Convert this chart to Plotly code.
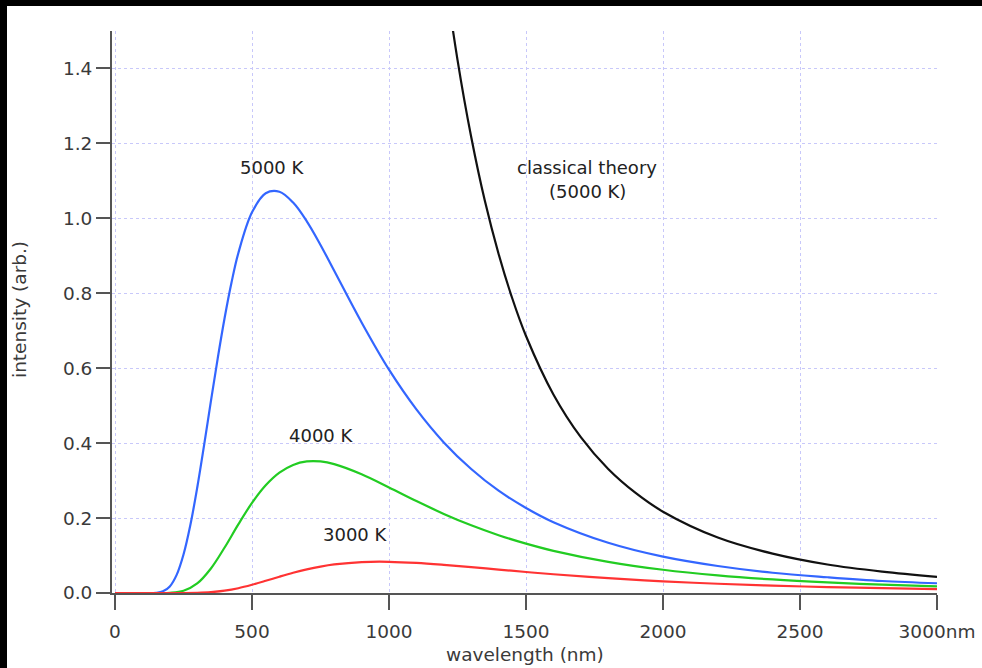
import plotly.graph_objects as go

# ---- data ----
wl_5000 = [0, 100, 150, 175, 200, 225, 250, 275, 300, 325, 350, 375, 400, 425, 450, 500, 550, 600, 650,
           700, 750, 800, 900, 1000, 1100, 1200, 1300, 1400, 1500, 1600, 1800, 2000, 2200, 2400,
           2600, 2800, 3000]
int_5000 = [0, 0, 0.0006, 0.0044, 0.0176, 0.0484, 0.1027, 0.1815, 0.281, 0.394, 0.512, 0.627, 0.734, 0.828,
            0.907, 1.016, 1.067, 1.071, 1.042, 0.992, 0.929, 0.860, 0.722, 0.596, 0.490, 0.402,
            0.331, 0.273, 0.227, 0.189, 0.134, 0.097, 0.072, 0.054, 0.042, 0.032, 0.026]

wl_4000 = [0, 150, 200, 250, 300, 350, 400, 450, 500, 550, 600, 650, 700, 750, 800, 900, 1000,
           1100, 1200, 1300, 1400, 1500, 1600, 1800, 2000, 2200, 2400, 2600, 2800, 3000]
int_4000 = [0, 0, 0.0005, 0.0058, 0.0255, 0.0655, 0.1214, 0.1831, 0.2405, 0.2874, 0.3212, 0.3419,
            0.3511, 0.3511, 0.3441, 0.3170, 0.2818, 0.2453, 0.2111, 0.1806, 0.1542, 0.1317,
            0.1126, 0.0830, 0.0620, 0.0470, 0.0361, 0.0282, 0.0222, 0.0178]

wl_3000 = [0, 200, 300, 350, 400, 450, 500, 550, 600, 650, 700, 750, 800, 900, 1000, 1100, 1200,
           1300, 1400, 1500, 1600, 1800, 2000, 2200, 2400, 2600, 2800, 3000]
int_3000 = [0, 0, 0.0005, 0.0021, 0.0061, 0.0127, 0.0219, 0.0325, 0.0435, 0.0539, 0.0630, 0.0705,
            0.0762, 0.0825, 0.0833, 0.0804, 0.0752, 0.0690, 0.0625, 0.0561, 0.0501, 0.0396,
            0.0312, 0.0247, 0.0197, 0.0158, 0.0128, 0.0104]

wl_classical = [1150, 1200, 1250, 1300, 1350, 1400, 1450, 1500, 1600, 1700, 1800, 1900, 2000,
                2200, 2400, 2600, 2800, 3000]
int_classical = [1.987, 1.676, 1.423, 1.217, 1.046, 0.905, 0.786, 0.686, 0.530, 0.416, 0.331,
                 0.267, 0.217, 0.148, 0.105, 0.076, 0.057, 0.043]

x_tickvals = [0, 500, 1000, 1500, 2000, 2500, 3000]
x_ticktext = ["0", "500", "1000", "1500", "2000", "2500", "3000nm"]
y_tickvals = [0.0, 0.2, 0.4, 0.6, 0.8, 1.0, 1.2, 1.4]

FONT = "DejaVu Sans"
TXT = "#3a3a3a"
AX = "#555555"
GRID = "#c8c8fa"

fig = go.Figure()
series = [
    (wl_classical, int_classical, "#111111", "classical"),
    (wl_5000, int_5000, "#3366ff", "5000 K"),
    (wl_4000, int_4000, "#22cc22", "4000 K"),
    (wl_3000, int_3000, "#ff3333", "3000 K"),
]
for x, y, c, n in series:
    fig.add_trace(go.Scatter(x=x, y=y, mode="lines", name=n,
                             line=dict(color=c, width=2.2, shape="spline", smoothing=1.0),
                             hoverinfo="skip"))

W, H = 982, 668
L, R, T, B = 112, 45, 31, 75
pw, ph = W - L - R, H - T - B

def px_x(p):
    return (p - L) / pw

def px_y(p):
    return (H - B - p) / ph

shapes = [
    # black strips along top and left edges
    dict(type="rect", xref="paper", yref="paper", x0=px_x(-5), x1=px_x(7), y0=px_y(H + 5), y1=px_y(-5),
         fillcolor="black", line=dict(width=0), layer="above"),
    dict(type="rect", xref="paper", yref="paper", x0=px_x(-5), x1=px_x(W + 5), y0=px_y(6), y1=px_y(-5),
         fillcolor="black", line=dict(width=0), layer="above"),
]

ann_font = dict(family=FONT, size=18, color="#222222")
annotations = [
    dict(x=573, y=1.136, text="5000 K"),
    dict(x=752, y=0.421, text="4000 K"),
    dict(x=876, y=0.155, text="3000 K"),
    dict(x=1723, y=1.136, text="classical theory"),
    dict(x=1723, y=1.072, text="(5000 K)"),
]
for a in annotations:
    a.update(xref="x", yref="y", showarrow=False, font=ann_font, xanchor="center", yanchor="middle")

title_font = dict(family=FONT, size=18.5, color=TXT)
annotations.append(dict(xref="paper", yref="paper", x=px_x(525), y=px_y(667), text="wavelength (nm)",
                        showarrow=False, font=title_font, xanchor="center", yanchor="bottom"))
annotations.append(dict(xref="paper", yref="paper", x=px_x(19), y=px_y(310), text="intensity (arb.)",
                        showarrow=False, font=title_font, xanchor="center", yanchor="middle",
                        textangle=-90))

fig.update_layout(
    width=W, height=H, autosize=False,
    margin=dict(l=L, r=R, t=T, b=B, pad=0),
    paper_bgcolor="white", plot_bgcolor="white",
    showlegend=False,
    shapes=shapes,
    annotations=annotations,
    xaxis=dict(range=[-11, 3000], tickvals=x_tickvals, ticktext=x_ticktext, automargin=False,
               showline=True, linecolor=AX, linewidth=2, mirror=False,
               ticks="outside", ticklen=15, tickwidth=2, tickcolor=AX,
               ticklabelstandoff=6,
               tickfont=dict(family=FONT, size=18.5, color=TXT),
               showgrid=True, gridcolor=GRID, gridwidth=1, griddash="dot",
               zeroline=False),
    yaxis=dict(range=[0, 1.5], tickvals=y_tickvals, tickformat=".1f", automargin=False,
               showline=True, linecolor=AX, linewidth=2, mirror=False,
               ticks="outside", ticklen=14, tickwidth=2, tickcolor=AX,
               tickfont=dict(family=FONT, size=18.5, color=TXT),
               showgrid=True, gridcolor=GRID, gridwidth=1, griddash="dot",
               zeroline=False),
)

fig.write_html("out.html", config={"displayModeBar": False},
               post_script="document.body.style.margin='0';document.body.style.overflow='hidden';")
